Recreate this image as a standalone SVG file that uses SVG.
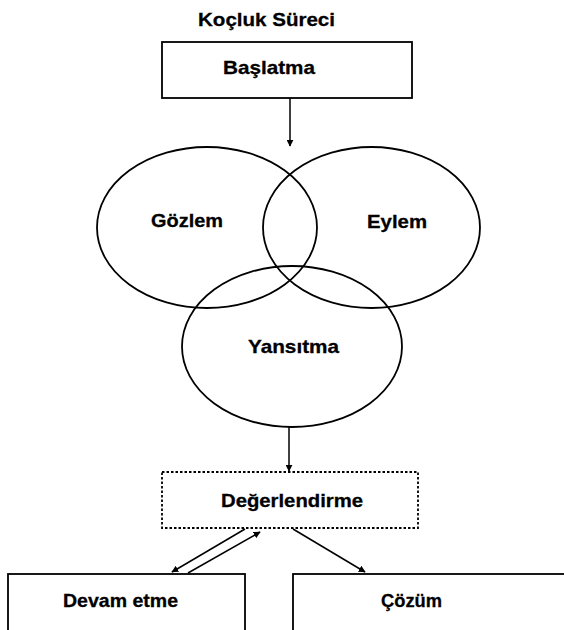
<svg xmlns="http://www.w3.org/2000/svg" width="564" height="630" viewBox="0 0 564 630">
<style>
text{font-family:"Liberation Sans",Arial,sans-serif;font-weight:bold;font-size:19px;fill:#000;stroke:#000;stroke-width:0.3}
.box{fill:#fff;stroke:#000;stroke-width:1.8}
.dot{fill:#fff;stroke:#000;stroke-width:1.8;stroke-dasharray:2.5,2}
.ell{fill:none;stroke:#000;stroke-width:1.8}
.con{stroke:#000;stroke-width:1.5;fill:none;marker-end:url(#ah)}
</style>
<defs>
<marker id="ah" viewBox="0 0 10 10" refX="9" refY="5" markerWidth="7" markerHeight="7" markerUnits="userSpaceOnUse" orient="auto">
<path d="M0,0 L10,5 L0,10 z" fill="#000"/>
</marker>
</defs>
<rect width="564" height="630" fill="#fff"/>
<text x="198" y="26" textLength="137" lengthAdjust="spacingAndGlyphs">Koçluk Süreci</text>
<g id="baslatma">
<rect class="box" x="162" y="42" width="250" height="56"/>
<text x="223" y="74" textLength="92" lengthAdjust="spacingAndGlyphs">Başlatma</text>
</g>
<g id="gozlem">
<ellipse class="ell" cx="207" cy="227.5" rx="110" ry="80.5"/>
<text x="151" y="227" textLength="72" lengthAdjust="spacingAndGlyphs">Gözlem</text>
</g>
<g id="eylem">
<ellipse class="ell" cx="371.5" cy="227.5" rx="108.5" ry="80.5"/>
<text x="367" y="228" textLength="60" lengthAdjust="spacingAndGlyphs">Eylem</text>
</g>
<g id="yansitma">
<ellipse class="ell" cx="292" cy="346.5" rx="110" ry="80.5"/>
<text x="248" y="353" textLength="91" lengthAdjust="spacingAndGlyphs">Yansıtma</text>
</g>
<g id="degerlendirme">
<rect class="dot" x="162" y="472" width="256" height="56"/>
<text x="221" y="507" textLength="142" lengthAdjust="spacingAndGlyphs">Değerlendirme</text>
</g>
<g id="devam">
<rect class="box" x="8" y="574" width="237" height="70"/>
<text x="63" y="607" textLength="115" lengthAdjust="spacingAndGlyphs">Devam etme</text>
</g>
<g id="cozum">
<rect class="box" x="293" y="574" width="290" height="70"/>
<text x="381" y="607" textLength="61" lengthAdjust="spacingAndGlyphs">Çözüm</text>
</g>
<g id="connectors">
<line class="con" x1="290" y1="98" x2="290" y2="146"/>
<line class="con" x1="289" y1="427" x2="289" y2="471"/>
<line class="con" x1="245" y1="529" x2="172" y2="572"/>
<line class="con" x1="188" y1="573" x2="260" y2="532"/>
<line class="con" x1="293" y1="529" x2="365" y2="572"/>
</g>
</svg>
